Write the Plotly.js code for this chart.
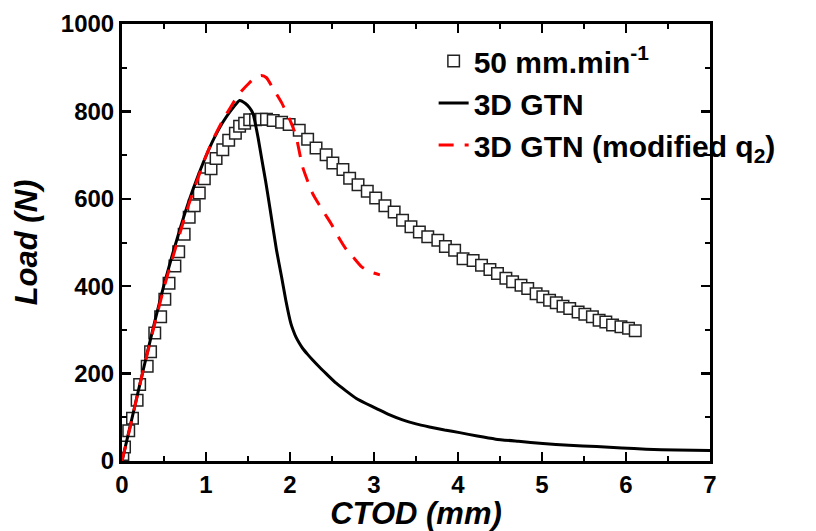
<!DOCTYPE html>
<html>
<head>
<meta charset="utf-8">
<script src="https://cdn.plot.ly/plotly-3.0.1.min.js"></script>
<style>html,body{margin:0;padding:0;background:#fff;}#chart{width:816px;height:531px;}</style>
</head>
<body>
<div id="chart"></div>
<script>
// Experimental data: 50 mm.min^-1 (open squares)
const expCTOD = [0.01,0.03,0.08,0.125,0.18,0.21,0.30,0.34,0.39,0.46,0.51,0.56,0.63,0.675,0.74,0.80,0.86,0.92,0.98,1.06,1.12,1.20,1.27,1.35,1.40,1.46,1.52,1.59,1.66,1.72,1.80,1.90,1.99,2.11,2.21,2.31,2.43,2.51,2.63,2.71,2.81,2.92,3.02,3.13,3.24,3.34,3.44,3.54,3.64,3.76,3.85,3.96,4.06,4.18,4.28,4.38,4.47,4.57,4.65,4.75,4.83,4.93,5.01,5.09,5.17,5.25,5.33,5.43,5.51,5.60,5.68,5.76,5.84,5.94,6.03,6.11];
const expLoad = [15,32,69,98,139,175,217,250,293,330,370,407,446,479,519,558,584,613,646,669,692,712,734,750,766,773,781,781,782,782,779,775,770,757,736,716,701,682,667,647,632,617,602,584,570,551,536,524,513,505,491,482,463,459,448,438,429,418,410,402,395,383,376,368,362,354,349,341,336,330,322,318,311,307,304,298];

// 3D GTN simulation (solid black)
const gtnCTOD = [0,0.1,0.2,0.3,0.4,0.5,0.6,0.7,0.8,0.9,1.0,1.1,1.2,1.3,1.4,1.47,1.52,1.56,1.58,1.62,1.66,1.71,1.76,1.84,1.90,1.95,2.01,2.04,2.07,2.11,2.15,2.21,2.27,2.35,2.43,2.55,2.67,2.79,2.91,3.03,3.18,3.34,3.50,3.66,3.84,4.02,4.23,4.45,4.72,5.01,5.32,5.65,5.95,6.24,6.6,7.0];
const gtnLoad = [0,82,165,247,327,403,472,537,597,650,698,740,775,803,825,818,808,795,779,740,695,640,580,482,421,368,315,298,284,270,258,244,231,215,200,178,160,143,131,120,106,94,85,78,71,65,57,50,45,40,36,33,30,27,25,24];

// 3D GTN with modified q2 (dashed red)
const modCTOD = [0,0.1,0.2,0.3,0.4,0.5,0.6,0.7,0.8,0.9,1.0,1.1,1.2,1.3,1.38,1.44,1.5,1.58,1.66,1.72,1.8,1.9,2.0,2.07,2.15,2.27,2.4,2.49,2.6,2.67,2.75,2.85,2.95,3.07];
const modLoad = [0,80,165,245,322,397,463,528,590,645,698,742,780,812,837,850,862,877,882,877,852,820,780,745,673,612,570,543,505,484,467,445,433,426];

const seriesNames = ['50 mm.min<sup>-1</sup>', '3D GTN', '3D GTN (modified q<sub>2</sub>)'];
const xTitle = 'CTOD (mm)';
const yTitle = 'Load (N)';

const FONT = 'Liberation Sans, Arial, sans-serif';

const traces = [
  {x: expCTOD, y: expLoad, name: seriesNames[0], type: 'scatter', mode: 'markers',
   marker: {symbol: 'square', size: 11.5, color: '#ffffff', line: {color: '#222', width: 1.5}}},
  {x: gtnCTOD, y: gtnLoad, name: seriesNames[1], type: 'scatter', mode: 'lines',
   line: {color: '#000', width: 3, shape: 'spline', smoothing: 0.5}},
  {x: modCTOD, y: modLoad, name: seriesNames[2], type: 'scatter', mode: 'lines',
   line: {color: '#ff0000', width: 3, dash: '15px,11px', shape: 'spline', smoothing: 0.5}}
];

const axisCommon = {
  showline: true, linecolor: '#000', linewidth: 3, mirror: 'allticks',
  ticks: 'inside', ticklen: 9, tickwidth: 2.5, tickcolor: '#000',
  showgrid: false, zeroline: false,
  tickfont: {family: FONT, size: 24, color: '#000', weight: 'bold'}
};

const layout = {
  width: 816, height: 531,
  margin: {l: 122, r: 106, t: 24, b: 70},
  paper_bgcolor: '#fff', plot_bgcolor: '#fff',
  showlegend: true,
  legend: {x: 0.53, y: 0.975, xanchor: 'left', yanchor: 'top', bgcolor: 'rgba(0,0,0,0)',
           font: {family: FONT, size: 30, color: '#000', weight: 'bold'}, tracegroupgap: 0, itemwidth: 30},
  xaxis: Object.assign({}, axisCommon, {
    range: [0, 7], dtick: 1, tick0: 0,
    minor: {ticks: 'inside', dtick: 0.5, ticklen: 5, tickwidth: 2, tickcolor: '#000'},
    title: {text: xTitle, standoff: 8, font: {family: FONT, size: 31, color: '#000', weight: 'bold', style: 'italic'}}
  }),
  yaxis: Object.assign({}, axisCommon, {
    range: [0, 1000], dtick: 200, tick0: 0,
    minor: {ticks: 'inside', dtick: 100, ticklen: 5, tickwidth: 2, tickcolor: '#000'},
    title: {text: yTitle, standoff: 14, font: {family: FONT, size: 31, color: '#000', weight: 'bold', style: 'italic'}}
  })
};

Plotly.newPlot('chart', traces, layout, {displayModeBar: false, staticPlot: true});
</script>
</body>
</html>
